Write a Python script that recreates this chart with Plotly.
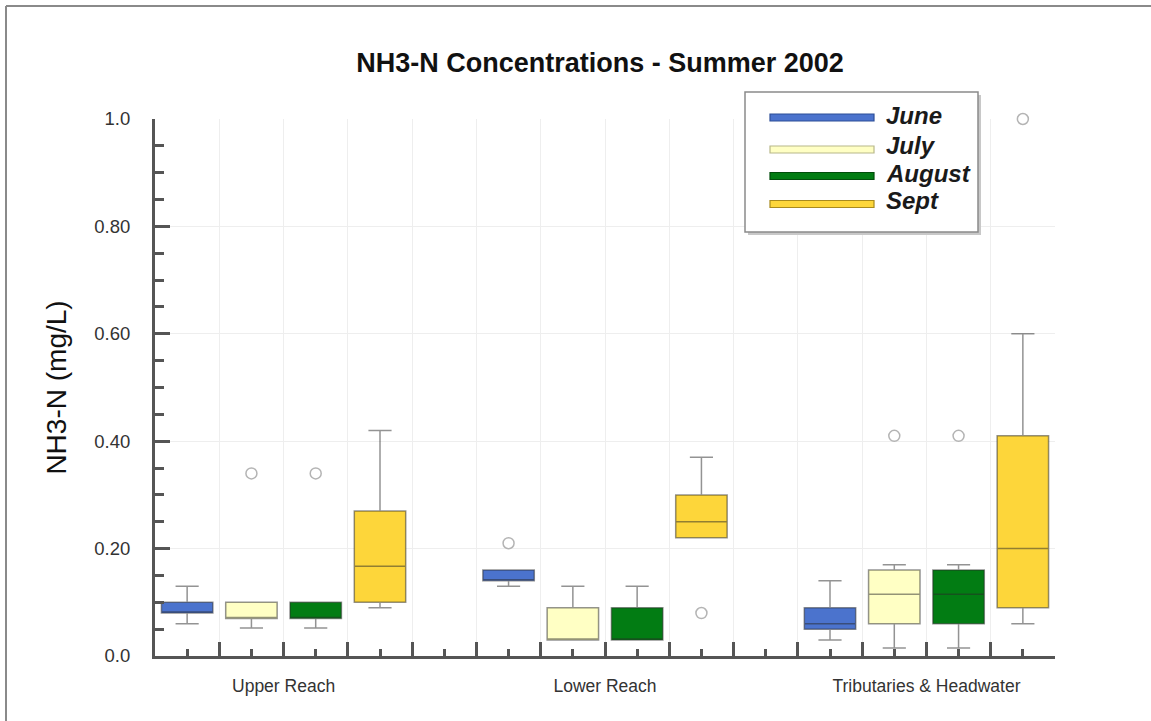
import plotly.graph_objects as go

# Sampling reaches and months
groups = ["Upper Reach", "Lower Reach", "Tributaries & Headwater"]
months = ["June", "July", "August", "Sept"]
colors = ["#4b73cd", "#ffffc4", "#027c13", "#fdd63a"]
edge_colors = ["#2d4f98", "#b8b88a", "#014d0b", "#a88a1c"]

# Box statistics per month, one value per reach (mg/L)
june_q1 = [0.08, 0.14, 0.05]
june_median = [0.08, 0.14, 0.06]
june_q3 = [0.10, 0.16, 0.09]
june_low = [0.06, 0.13, 0.03]
june_high = [0.13, 0.16, 0.14]

july_q1 = [0.07, 0.03, 0.06]
july_median = [0.07, 0.03, 0.115]
july_q3 = [0.10, 0.09, 0.16]
july_low = [0.052, 0.03, 0.015]
july_high = [0.10, 0.13, 0.17]

august_q1 = [0.07, 0.03, 0.06]
august_median = [0.07, 0.03, 0.115]
august_q3 = [0.10, 0.09, 0.16]
august_low = [0.052, 0.03, 0.015]
august_high = [0.10, 0.13, 0.17]

sept_q1 = [0.10, 0.22, 0.09]
sept_median = [0.167, 0.25, 0.20]
sept_q3 = [0.27, 0.30, 0.41]
sept_low = [0.09, 0.22, 0.06]
sept_high = [0.42, 0.37, 0.60]

# Outlying samples
outlier_group = ["Upper Reach", "Upper Reach", "Lower Reach", "Lower Reach",
                 "Tributaries & Headwater", "Tributaries & Headwater", "Tributaries & Headwater"]
outlier_month = ["July", "August", "June", "Sept", "July", "August", "Sept"]
outlier_value = [0.34, 0.34, 0.21, 0.08, 0.41, 0.41, 1.0]

# Axis labels
y_tickvals = [0.0, 0.2, 0.4, 0.6, 0.8, 1.0]
y_ticktext = ["0.0", "0.20", "0.40", "0.60", "0.80", "1.0"]

stats = {
    "June": (june_q1, june_median, june_q3, june_low, june_high),
    "July": (july_q1, july_median, july_q3, july_low, july_high),
    "August": (august_q1, august_median, august_q3, august_low, august_high),
    "Sept": (sept_q1, sept_median, sept_q3, sept_low, sept_high),
}

SLOTS_PER_GROUP = len(months) + 1  # one empty slot between reaches
N_SLOTS = SLOTS_PER_GROUP * len(groups) - 1


def slot_x(group, month):
    return groups.index(group) * SLOTS_PER_GROUP + months.index(month) + 0.5


FONT = "Liberation Sans, Arial, sans-serif"
AXIS = "#555555"

fig = go.Figure()

for m, month in enumerate(months):
    q1, med, q3, lo, hi = stats[month]
    fig.add_trace(go.Box(
        name=month,
        x=[slot_x(g, month) for g in groups],
        q1=q1, median=med, q3=q3, lowerfence=lo, upperfence=hi,
        fillcolor=colors[m],
        line=dict(color="rgba(40,40,40,0.5)", width=1.5),
        width=0.8,
        whiskerwidth=0.45,
        boxpoints=False,
        showlegend=False,
        hoverinfo="y",
    ))

fig.add_trace(go.Scatter(
    x=[slot_x(g, m) for g, m in zip(outlier_group, outlier_month)],
    y=outlier_value,
    mode="markers",
    marker=dict(symbol="circle-open", size=11, color="#b4b4b4", line=dict(width=1.5)),
    cliponaxis=False,
    showlegend=False,
))

# Plot-area pixel frame
L, R, T, B = 155, 1055, 119, 656
W, H = 1151, 721


def px(xp):
    return (xp - L) / (R - L)


def py(yp):
    return (B - yp) / (B - T)


shapes = []
# outer frame (left and top edges)
shapes.append(dict(type="line", xref="paper", yref="paper", x0=px(6), x1=px(6),
                   y0=py(6), y1=py(H + 5), line=dict(color="#8a8a8a", width=2), layer="above"))
shapes.append(dict(type="line", xref="paper", yref="paper", x0=px(6), x1=px(W + 5),
                   y0=py(6), y1=py(6), line=dict(color="#8a8a8a", width=2), layer="above"))

# legend panel
shapes.append(dict(type="rect", xref="paper", yref="paper", x0=px(748), x1=px(981),
                   y0=py(95), y1=py(235), fillcolor="#c8c8c8", line=dict(width=0), layer="above"))
shapes.append(dict(type="rect", xref="paper", yref="paper", x0=px(745), x1=px(978),
                   y0=py(92), y1=py(232), fillcolor="white",
                   line=dict(color="#8a8a8a", width=1.5), layer="above"))

sample_y = [117.5, 149.5, 176, 204]
text_y = [116, 145.5, 173.5, 201]
annotations = []
for m, month in enumerate(months):
    shapes.append(dict(type="rect", xref="paper", yref="paper",
                       x0=px(770), x1=px(874), y0=py(sample_y[m] - 3.5), y1=py(sample_y[m] + 3.5),
                       fillcolor=colors[m], line=dict(color=edge_colors[m], width=1.2), layer="above"))
    annotations.append(dict(xref="paper", yref="paper", x=px(884), y=py(text_y[m]),
                            xanchor="left", yanchor="middle", showarrow=False,
                            text="<b><i>" + month + "</i></b>",
                            font=dict(family=FONT, size=24, color="#1a1a1a")))

group_ticks = {groups.index(g) * SLOTS_PER_GROUP + len(months) / 2: g for g in groups}
x_tickvals = list(range(N_SLOTS + 1))
x_ticktext = [group_ticks.get(v, "") for v in x_tickvals]

fig.update_layout(
    width=W, height=H,
    margin=dict(l=L, r=W - R, t=T, b=H - B),
    paper_bgcolor="white", plot_bgcolor="white",
    title=dict(text="<b>NH3-N Concentrations - Summer 2002</b>",
               x=600 / W, xref="container", xanchor="center",
               y=1 - 63 / H, yref="container", yanchor="middle",
               font=dict(family=FONT, size=27, color="#111111")),
    font=dict(family=FONT),
    boxmode="overlay",
    showlegend=False,
    shapes=shapes,
    annotations=annotations,
    xaxis=dict(
        range=[0, N_SLOTS], tickmode="array", tickvals=x_tickvals, ticktext=x_ticktext,
        ticks="inside", ticklen=14, tickwidth=3, tickcolor=AXIS,
        showline=True, linecolor=AXIS, linewidth=3,
        showgrid=True, gridcolor="#eeeeee", gridwidth=1, zeroline=False,
        tickfont=dict(family=FONT, size=17.5, color="#333333"),
        ticklabelstandoff=12,
        minor=dict(tickmode="array", tickvals=[i + 0.5 for i in range(N_SLOTS)],
                   ticks="inside", ticklen=7, tickwidth=3, tickcolor=AXIS, showgrid=False),
    ),
    yaxis=dict(
        range=[0, 1], tickmode="array", tickvals=y_tickvals, ticktext=y_ticktext,
        ticks="inside", ticklen=15, tickwidth=3, tickcolor=AXIS,
        showline=True, linecolor=AXIS, linewidth=3,
        showgrid=True, gridcolor="#eeeeee", gridwidth=1, zeroline=False,
        tickfont=dict(family=FONT, size=18.5, color="#333333"),
        ticklabelstandoff=18,
        minor=dict(dtick=0.05, tick0=0, ticks="inside", ticklen=9, tickwidth=3,
                   tickcolor=AXIS, showgrid=False),
        title=dict(text="NH3-N (mg/L)", standoff=20,
                   font=dict(family=FONT, size=28, color="#111111")),
    ),
)

fig.write_html("out.html")
